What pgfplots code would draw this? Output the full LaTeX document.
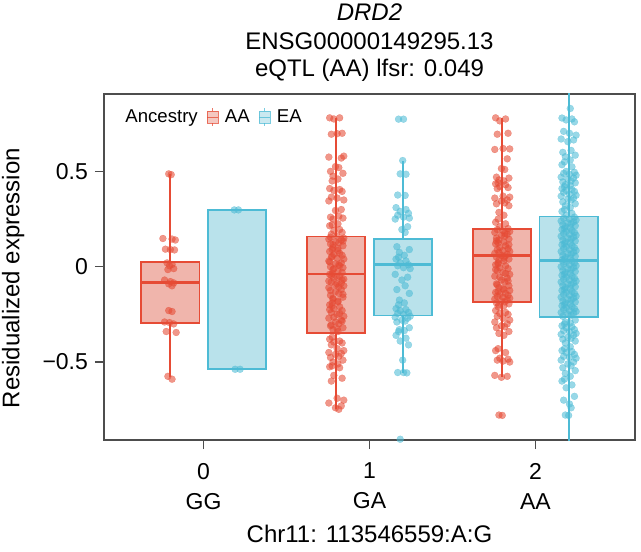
\documentclass[border=0pt]{standalone}
\usepackage{fontspec}
\setmainfont{Liberation Sans}
\usepackage{pgfplots}
\pgfplotsset{compat=1.18}
\usepackage{pgfplotstable}
\usepgfplotslibrary{statistics}

\definecolor{aaRed}{HTML}{E64B35}
\definecolor{eaBlue}{HTML}{4DBBD5}
\definecolor{aaFill}{HTML}{F0B5AC}
\definecolor{eaFill}{HTML}{B9E2EB}
\definecolor{axGray}{HTML}{4D4D4D}

\newcommand{\ftitle}{\fontsize{12}{14.4}\selectfont}
\newcommand{\ftick}{\fontsize{11.5}{15}\selectfont}
\newcommand{\fleg}{\fontsize{9.3}{11}\selectfont}
\newcommand{\boxglyph}[2]{%
  \draw[#1, line width=0.6pt, fill=#2, opacity=0.75] (0pt,-3pt) rectangle (5.5pt,3pt);
  \draw[#1, line width=0.6pt, opacity=0.75] (0pt,0pt) -- (5.5pt,0pt) (2.75pt,3pt) -- (2.75pt,4.5pt) (2.75pt,-3pt) -- (2.75pt,-4.5pt);}

% jitter offset j, value y
\pgfplotstableread[row sep=\\]{j y\\
-0.01 0.487\\ 0.005 0.483\\ -0.045 0.148\\ 0.01 0.145\\ 0.03 0.14\\ -0.03 0.092\\ 0.0 0.09\\ 0.025 0.088\\
-0.02 0.02\\ 0.01 0.012\\ -0.005 0.005\\ 0.02 -0.01\\ -0.015 -0.015\\ -0.035 -0.07\\ 0.0 -0.078\\ 0.02 -0.085\\
-0.01 -0.09\\ 0.01 -0.1\\ -0.01 -0.23\\ 0.01 -0.235\\ -0.035 -0.29\\ -0.005 -0.293\\ 0.02 -0.3\\ -0.025 -0.34\\
0.035 -0.345\\ -0.015 -0.575\\ 0.01 -0.59\\}\gZeroAA

\pgfplotstableread[row sep=\\]{j y\\
-0.015 0.298\\ 0.01 0.298\\ -0.01 -0.538\\ 0.02 -0.538\\}\gZeroEA

\pgfplotstableread[row sep=\\]{j y\\
-0.04 0.781\\ 0.02 0.781\\ -0.015 0.775\\ 0.035 0.70\\ -0.03 0.695\\ 0.005 0.698\\ 0.045 0.58\\ -0.045 0.575\\
0.03 0.57\\ -0.005 0.525\\ 0.015 0.52\\ -0.035 0.50\\ 0.04 0.49\\ -0.02 0.475\\ 0.01 0.46\\ -0.025 0.45\\
-0.04 0.41\\ 0.02 0.405\\ -0.015 0.40\\ 0.035 0.395\\ -0.03 0.365\\ 0.005 0.36\\ 0.045 0.35\\ -0.045 0.345\\
0.03 0.30\\ -0.005 0.295\\ 0.015 0.265\\ -0.035 0.26\\ 0.04 0.255\\ -0.02 0.25\\ 0.01 0.225\\ -0.025 0.22\\
-0.04 0.215\\ 0.02 0.195\\ -0.015 0.19\\ 0.035 0.18\\ -0.03 0.17\\ 0.005 0.16\\ 0.045 0.15\\ -0.045 0.145\\
0.03 0.14\\ -0.005 0.13\\ 0.015 0.125\\ -0.035 0.12\\ 0.04 0.11\\ -0.02 0.10\\ 0.01 0.095\\ -0.025 0.09\\
-0.04 0.08\\ 0.02 0.07\\ -0.015 0.065\\ 0.035 0.06\\ -0.03 0.05\\ 0.005 0.045\\ 0.045 0.04\\ -0.045 0.03\\
0.03 0.02\\ -0.005 0.015\\ 0.015 0.01\\ -0.035 0.0\\ 0.04 -0.005\\ -0.02 -0.015\\ 0.01 -0.025\\ -0.025 -0.035\\
-0.04 -0.04\\ 0.02 -0.05\\ -0.015 -0.06\\ 0.035 -0.07\\ -0.03 -0.08\\ 0.005 -0.09\\ 0.045 -0.10\\ -0.045 -0.11\\
0.03 -0.12\\ -0.005 -0.13\\ 0.015 -0.14\\ -0.035 -0.15\\ 0.04 -0.16\\ -0.02 -0.17\\ 0.01 -0.18\\ -0.025 -0.19\\
-0.04 -0.20\\ 0.02 -0.21\\ -0.015 -0.22\\ 0.035 -0.23\\ -0.03 -0.24\\ 0.005 -0.25\\ 0.045 -0.26\\ -0.045 -0.27\\
0.03 -0.28\\ -0.005 -0.29\\ 0.015 -0.30\\ -0.035 -0.31\\ 0.04 -0.32\\ -0.02 -0.33\\ 0.01 -0.34\\ -0.025 -0.37\\
-0.04 -0.38\\ 0.02 -0.39\\ -0.015 -0.395\\ 0.035 -0.40\\ -0.03 -0.41\\ 0.005 -0.43\\ 0.045 -0.44\\ -0.045 -0.45\\
0.03 -0.455\\ -0.005 -0.46\\ 0.015 -0.47\\ -0.035 -0.476\\ 0.04 -0.49\\ -0.02 -0.50\\ 0.01 -0.51\\ -0.025 -0.52\\
-0.04 -0.525\\ 0.02 -0.53\\ -0.015 -0.57\\ 0.035 -0.585\\ -0.03 -0.60\\ 0.005 -0.69\\ 0.045 -0.70\\ -0.045 -0.715\\
0.03 -0.73\\ -0.005 -0.74\\ 0.015 -0.748\\ -0.035 0.155\\ 0.04 0.135\\ -0.02 0.115\\ 0.01 0.085\\ -0.025 0.055\\
-0.04 0.025\\ 0.02 0.005\\ -0.015 -0.01\\ 0.035 -0.03\\ -0.03 -0.045\\ 0.005 -0.055\\ 0.045 -0.065\\ -0.045 -0.075\\
0.03 -0.085\\ -0.005 -0.095\\ 0.015 -0.105\\ -0.035 -0.125\\ 0.04 -0.145\\ -0.02 -0.165\\ 0.01 -0.185\\ -0.025 -0.205\\
-0.04 -0.225\\ 0.02 -0.245\\ -0.015 -0.265\\ 0.035 -0.285\\ -0.03 -0.305\\ 0.005 -0.325\\}\gOneAA

\pgfplotstableread[row sep=\\]{j y\\
-0.025 0.774\\ 0.005 0.774\\ 0.0 0.557\\ -0.015 0.487\\ 0.02 0.485\\ -0.03 0.376\\ 0.015 0.374\\ -0.04 0.31\\
0.02 0.30\\ -0.015 0.29\\ 0.035 0.28\\ -0.03 0.27\\ 0.005 0.26\\ 0.04 0.255\\ -0.045 0.25\\ 0.03 0.21\\
-0.005 0.195\\ 0.015 0.18\\ -0.035 0.105\\ 0.04 0.09\\ -0.02 0.075\\ 0.01 0.06\\ -0.025 0.05\\ -0.04 0.04\\
0.02 0.03\\ -0.015 0.02\\ 0.035 0.01\\ -0.03 0.005\\ 0.005 -0.005\\ 0.045 -0.01\\ -0.045 -0.04\\ 0.03 -0.055\\
-0.005 -0.07\\ 0.015 -0.10\\ -0.035 -0.12\\ 0.04 -0.14\\ -0.02 -0.175\\ 0.01 -0.19\\ -0.025 -0.20\\ -0.04 -0.22\\
0.02 -0.225\\ -0.015 -0.23\\ 0.035 -0.24\\ -0.03 -0.245\\ 0.005 -0.25\\ 0.045 -0.26\\ -0.045 -0.265\\ 0.03 -0.27\\
-0.005 -0.28\\ 0.015 -0.285\\ -0.035 -0.29\\ 0.04 -0.32\\ -0.02 -0.33\\ 0.01 -0.335\\ -0.025 -0.34\\ -0.04 -0.36\\
0.02 -0.375\\ -0.015 -0.39\\ 0.035 -0.41\\ 0.0 -0.49\\ -0.03 -0.555\\ 0.005 -0.555\\ 0.025 -0.557\\ -0.015 -0.905\\}\gOneEA

\pgfplotstableread[row sep=\\]{j y\\
-0.04 0.781\\ 0.02 0.775\\ -0.015 0.765\\ 0.035 0.70\\ -0.03 0.695\\ 0.005 0.62\\ 0.045 0.618\\ -0.045 0.615\\
0.03 0.566\\ -0.005 0.515\\ 0.015 0.51\\ -0.035 0.47\\ 0.04 0.465\\ -0.02 0.455\\ 0.01 0.45\\ -0.025 0.44\\
-0.04 0.435\\ 0.02 0.43\\ -0.015 0.42\\ 0.035 0.415\\ -0.03 0.41\\ 0.005 0.37\\ 0.045 0.365\\ -0.045 0.36\\
0.03 0.35\\ -0.005 0.345\\ 0.015 0.335\\ -0.035 0.33\\ 0.04 0.32\\ -0.02 0.285\\ 0.01 0.27\\ -0.025 0.25\\
-0.04 0.233\\ 0.02 0.225\\ -0.015 0.21\\ 0.035 0.20\\ -0.03 0.195\\ 0.005 0.19\\ 0.045 0.185\\ -0.045 0.18\\
0.03 0.17\\ -0.005 0.165\\ 0.015 0.16\\ -0.035 0.15\\ 0.04 0.145\\ -0.02 0.14\\ 0.01 0.13\\ -0.025 0.125\\
-0.04 0.12\\ 0.02 0.11\\ -0.015 0.10\\ 0.035 0.095\\ -0.03 0.09\\ 0.005 0.085\\ 0.045 0.08\\ -0.045 0.07\\
0.03 0.065\\ -0.005 0.06\\ 0.015 0.055\\ -0.035 0.05\\ 0.04 0.04\\ -0.02 0.035\\ 0.01 0.03\\ -0.025 0.02\\
-0.04 0.01\\ 0.02 0.005\\ -0.015 -0.005\\ 0.035 -0.01\\ -0.03 -0.02\\ 0.005 -0.03\\ 0.045 -0.04\\ -0.045 -0.05\\
0.03 -0.06\\ -0.005 -0.07\\ 0.015 -0.08\\ -0.035 -0.09\\ 0.04 -0.10\\ -0.02 -0.11\\ 0.01 -0.12\\ -0.025 -0.13\\
-0.04 -0.135\\ 0.02 -0.14\\ -0.015 -0.145\\ 0.035 -0.15\\ -0.03 -0.155\\ 0.005 -0.16\\ 0.045 -0.165\\ -0.045 -0.17\\
0.03 -0.175\\ -0.005 -0.18\\ 0.015 -0.185\\ -0.035 -0.19\\ 0.04 -0.195\\ -0.02 -0.20\\ 0.01 -0.205\\ -0.025 -0.21\\
-0.04 -0.23\\ 0.02 -0.24\\ -0.015 -0.245\\ 0.035 -0.25\\ -0.03 -0.26\\ 0.005 -0.27\\ 0.045 -0.28\\ -0.045 -0.29\\
0.03 -0.30\\ -0.005 -0.31\\ 0.015 -0.315\\ -0.035 -0.32\\ 0.04 -0.34\\ -0.02 -0.35\\ 0.01 -0.36\\ -0.025 -0.43\\
-0.04 -0.44\\ 0.02 -0.45\\ -0.015 -0.48\\ 0.035 -0.485\\ -0.03 -0.49\\ 0.005 -0.495\\ 0.045 -0.50\\ -0.045 -0.57\\
0.03 -0.575\\ -0.005 -0.58\\ -0.02 -0.778\\ 0.0 -0.78\\ 0.015 0.175\\ -0.035 0.135\\ 0.04 0.115\\ -0.02 0.075\\
0.01 0.045\\ -0.025 0.015\\ -0.04 -0.015\\ 0.02 -0.035\\ -0.015 -0.055\\ 0.035 -0.075\\ -0.03 -0.095\\ 0.005 -0.115\\
0.045 -0.125\\}\gTwoAA

\pgfplotstableread[row sep=\\]{j y\\
0.01 0.83\\ -0.04 0.78\\ 0.02 0.775\\ -0.015 0.77\\ 0.035 0.76\\ -0.03 0.71\\ 0.005 0.70\\ 0.045 0.69\\
-0.045 0.67\\ 0.03 0.665\\ -0.005 0.656\\ 0.015 0.61\\ -0.035 0.60\\ 0.04 0.585\\ -0.02 0.577\\ 0.01 0.56\\
-0.025 0.55\\ -0.04 0.535\\ 0.02 0.524\\ -0.015 0.50\\ 0.035 0.495\\ -0.03 0.49\\ 0.005 0.485\\ 0.045 0.48\\
-0.045 0.47\\ 0.03 0.465\\ -0.005 0.46\\ 0.015 0.45\\ -0.035 0.445\\ 0.04 0.44\\ -0.02 0.43\\ 0.01 0.425\\
-0.025 0.42\\ -0.04 0.41\\ 0.02 0.405\\ -0.015 0.40\\ 0.035 0.395\\ -0.03 0.39\\ 0.005 0.38\\ 0.045 0.375\\
-0.045 0.37\\ 0.03 0.36\\ -0.005 0.355\\ 0.015 0.35\\ -0.035 0.34\\ 0.04 0.33\\ -0.02 0.32\\ 0.01 0.31\\
-0.025 0.30\\ -0.04 0.29\\ 0.02 0.28\\ -0.015 0.27\\ 0.035 0.26\\ -0.03 0.255\\ 0.005 0.25\\ 0.045 0.245\\
-0.045 0.24\\ 0.03 0.235\\ -0.005 0.23\\ 0.015 0.225\\ -0.035 0.22\\ 0.04 0.215\\ -0.02 0.21\\ 0.01 0.205\\
-0.025 0.20\\ -0.04 0.195\\ 0.02 0.19\\ -0.015 0.185\\ 0.035 0.18\\ -0.03 0.175\\ 0.005 0.17\\ 0.045 0.165\\
-0.045 0.16\\ 0.03 0.155\\ -0.005 0.15\\ 0.015 0.145\\ -0.035 0.14\\ 0.04 0.135\\ -0.02 0.13\\ 0.01 0.125\\
-0.025 0.12\\ -0.04 0.115\\ 0.02 0.11\\ -0.015 0.105\\ 0.035 0.10\\ -0.03 0.095\\ 0.005 0.09\\ 0.045 0.085\\
-0.045 0.08\\ 0.03 0.075\\ -0.005 0.07\\ 0.015 0.065\\ -0.035 0.06\\ 0.04 0.055\\ -0.02 0.05\\ 0.01 0.045\\
-0.025 0.04\\ -0.04 0.035\\ 0.02 0.03\\ -0.015 0.025\\ 0.035 0.02\\ -0.03 0.015\\ 0.005 0.01\\ 0.045 0.005\\
-0.045 0.0\\ 0.03 -0.005\\ -0.005 -0.01\\ 0.015 -0.015\\ -0.035 -0.02\\ 0.04 -0.025\\ -0.02 -0.03\\ 0.01 -0.035\\
-0.025 -0.04\\ -0.04 -0.045\\ 0.02 -0.05\\ -0.015 -0.055\\ 0.035 -0.06\\ -0.03 -0.065\\ 0.005 -0.07\\ 0.045 -0.075\\
-0.045 -0.08\\ 0.03 -0.085\\ -0.005 -0.09\\ 0.015 -0.095\\ -0.035 -0.10\\ 0.04 -0.105\\ -0.02 -0.11\\ 0.01 -0.115\\
-0.025 -0.12\\ -0.04 -0.125\\ 0.02 -0.13\\ -0.015 -0.135\\ 0.035 -0.14\\ -0.03 -0.145\\ 0.005 -0.15\\ 0.045 -0.155\\
-0.045 -0.16\\ 0.03 -0.165\\ -0.005 -0.17\\ 0.015 -0.175\\ -0.035 -0.18\\ 0.04 -0.185\\ -0.02 -0.19\\ 0.01 -0.195\\
-0.025 -0.20\\ -0.04 -0.205\\ 0.02 -0.21\\ -0.015 -0.215\\ 0.035 -0.22\\ -0.03 -0.225\\ 0.005 -0.23\\ 0.045 -0.235\\
-0.045 -0.24\\ 0.03 -0.245\\ -0.005 -0.25\\ 0.015 -0.255\\ -0.035 -0.26\\ 0.04 -0.28\\ -0.02 -0.29\\ 0.01 -0.295\\
-0.025 -0.30\\ -0.04 -0.31\\ 0.02 -0.315\\ -0.015 -0.32\\ 0.035 -0.33\\ -0.03 -0.335\\ 0.005 -0.34\\ 0.045 -0.35\\
-0.045 -0.355\\ 0.03 -0.36\\ -0.005 -0.37\\ 0.015 -0.375\\ -0.035 -0.38\\ 0.04 -0.39\\ -0.02 -0.40\\ 0.01 -0.42\\
-0.025 -0.43\\ -0.04 -0.44\\ 0.02 -0.445\\ -0.015 -0.45\\ 0.035 -0.46\\ -0.03 -0.47\\ 0.005 -0.475\\ 0.045 -0.48\\
-0.045 -0.49\\ 0.03 -0.50\\ -0.005 -0.51\\ 0.015 -0.52\\ -0.035 -0.53\\ 0.04 -0.545\\ -0.02 -0.56\\ 0.01 -0.575\\
-0.025 -0.59\\ -0.04 -0.60\\ 0.02 -0.62\\ -0.015 -0.635\\ 0.035 -0.68\\ -0.03 -0.70\\ 0.005 -0.72\\ 0.015 -0.74\\
-0.02 -0.778\\ 0.0 -0.78\\}\gTwoEA

\begin{document}
\begin{tikzpicture}
\useasboundingbox (-52pt,-55.5pt) rectangle (268.5pt,220pt);
\begin{axis}[
  name=ax, at={(0,0)}, anchor=south west,
  scale only axis, width=265.5pt, height=173pt,
  xmin=-0.6, xmax=2.6, ymin=-0.909, ymax=0.906,
  xtick={0,1,2}, xticklabels={{0\\GG},{1\\GA},{2\\AA}},
  ytick={-0.5,0,0.5}, yticklabels={−0.5,0,0.5},
  xticklabel style={font=\ftick, align=center, anchor=north, yshift=-3.5pt},
  yticklabel style={font=\ftick},
  tick pos=left, tick align=outside, major tick length=4.5pt,
  tick style={axGray, line width=0.6pt},
  axis line style={axGray, line width=0.6pt},
  xlabel={Chr11: 113546559:A:G},
  ylabel={Residualized expression},
  every axis x label/.style={at={(axis description cs:0.5,0)}, anchor=base, yshift=-51pt, font=\ftitle},
  every axis y label/.style={at={(axis description cs:-0.171,0.468)}, rotate=90, anchor=center, font=\ftitle},
  boxplot/draw direction=y,
  boxplot/every median/.style={line width=1.3pt},
  legend style={at={(axis description cs:0,1)}, anchor=north west, xshift=4.5pt, yshift=-4pt,
    draw=none, fill=none, font=\fleg, column sep=0pt,
    nodes={inner sep=1.5pt},
    /tikz/every odd column/.append style={column sep=1.5pt},
    /tikz/every even column/.append style={column sep=3pt},
    /tikz/column 2/.append style={column sep=6pt}},
  legend columns=-1, legend cell align=left,
]
\addlegendimage{empty legend}
\addlegendentry{Ancestry}
\addlegendimage{legend image code/.code={\boxglyph{aaRed}{aaFill}}}
\addlegendentry{AA}
\addlegendimage{legend image code/.code={\boxglyph{eaBlue}{eaFill}}}
\addlegendentry{EA}

% boxes
\addplot[forget plot, draw=aaRed, fill=aaFill, line width=0.9pt, boxplot prepared={draw position=-0.2, lower whisker=-0.58, lower quartile=-0.295, median=-0.083, upper quartile=0.023, upper whisker=0.487, box extend=0.35, whisker extend=0}] coordinates {};
\addplot[forget plot, draw=eaBlue, fill=eaFill, line width=0.9pt, boxplot prepared={draw position=0.2, lower whisker=-0.538, lower quartile=-0.538, median=0.298, upper quartile=0.298, upper whisker=0.298, box extend=0.35, whisker extend=0}] coordinates {};
\addplot[forget plot, draw=aaRed, fill=aaFill, line width=0.9pt, boxplot prepared={draw position=0.8, lower whisker=-0.748, lower quartile=-0.346, median=-0.039, upper quartile=0.159, upper whisker=0.781, box extend=0.35, whisker extend=0}] coordinates {};
\addplot[forget plot, draw=eaBlue, fill=eaFill, line width=0.9pt, boxplot prepared={draw position=1.2, lower whisker=-0.557, lower quartile=-0.256, median=0.011, upper quartile=0.146, upper whisker=0.557, box extend=0.35, whisker extend=0}] coordinates {};
\addplot[forget plot, draw=aaRed, fill=aaFill, line width=0.9pt, boxplot prepared={draw position=1.8, lower whisker=-0.58, lower quartile=-0.185, median=0.058, upper quartile=0.199, upper whisker=0.781, box extend=0.35, whisker extend=0}] coordinates {};
\addplot[forget plot, draw=eaBlue, fill=eaFill, line width=0.9pt, boxplot prepared={draw position=2.2, lower whisker=-1.2, lower quartile=-0.265, median=0.034, upper quartile=0.263, upper whisker=1.2, box extend=0.35, whisker extend=0}] coordinates {};

% jittered points
\pgfplotsset{aapts/.style={forget plot, only marks, color=aaRed, mark=*, mark size=1.75pt, mark options={draw=aaRed, fill=aaRed, line width=0.1pt, opacity=0.58}},
             eapts/.style={forget plot, only marks, color=eaBlue, mark=*, mark size=1.75pt, mark options={draw=eaBlue, fill=eaBlue, line width=0.1pt, opacity=0.58}}}
\addplot[aapts] table[x expr=\thisrow{j}-0.2, y=y] {\gZeroAA};
\addplot[eapts] table[x expr=\thisrow{j}+0.2, y=y] {\gZeroEA};
\addplot[aapts] table[x expr=\thisrow{j}+0.8, y=y] {\gOneAA};
\addplot[eapts] table[x expr=\thisrow{j}+1.2, y=y] {\gOneEA};
\addplot[aapts] table[x expr=\thisrow{j}+1.8, y=y] {\gTwoAA};
\addplot[eapts] table[x expr=\thisrow{j}+2.2, y=y] {\gTwoEA};
\end{axis}
\node[anchor=base, font=\ftitle] at ([yshift=36.75pt]ax.north) {\textit{DRD2}};
\node[anchor=base, font=\ftitle] at ([yshift=22.25pt]ax.north) {ENSG00000149295.13};
\node[anchor=base, font=\ftitle] at ([yshift=8.75pt]ax.north) {eQTL (AA) lfsr: 0.049};
\end{tikzpicture}
\end{document}
